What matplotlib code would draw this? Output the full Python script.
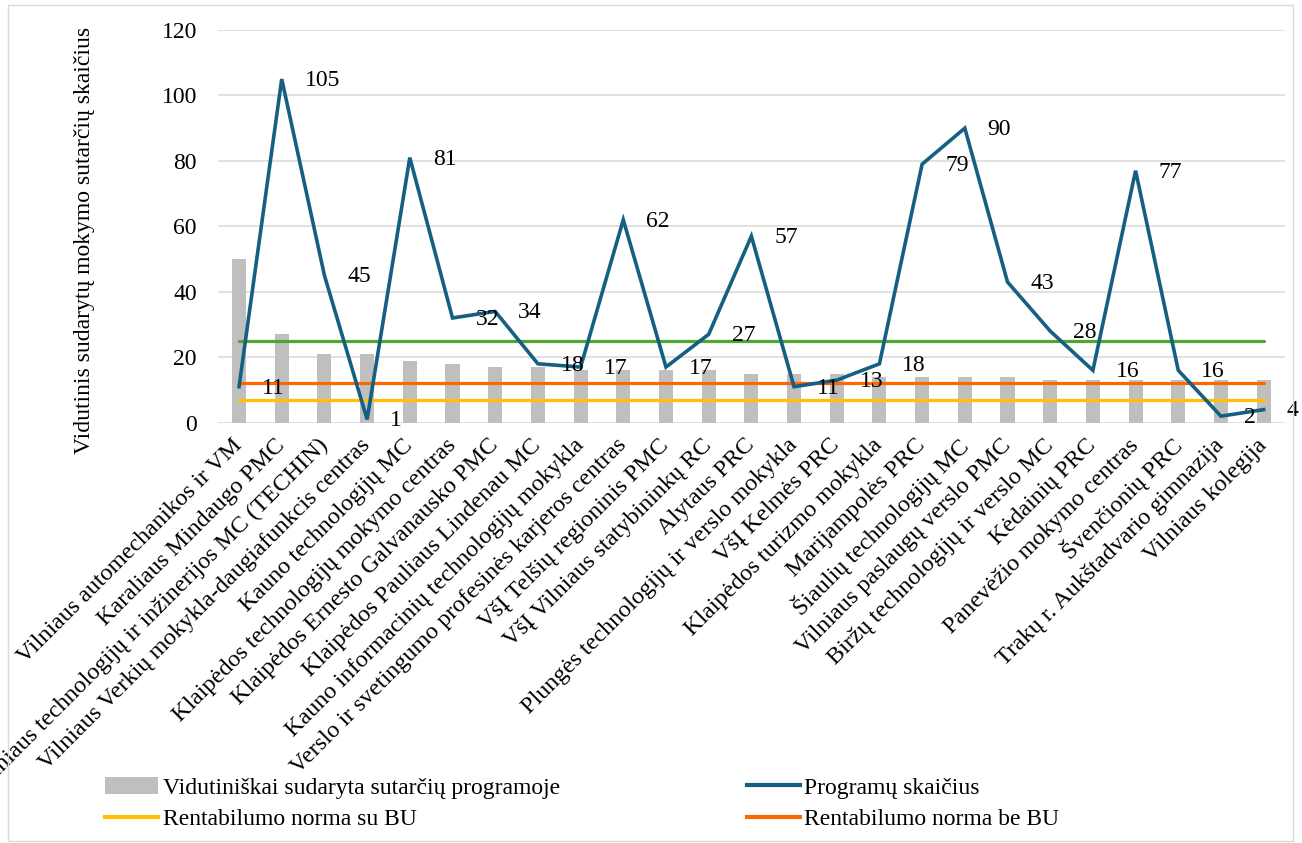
import matplotlib
matplotlib.use("Agg")
import matplotlib.pyplot as plt
from matplotlib.patches import Rectangle, Patch
from matplotlib.lines import Line2D

plt.rcParams['font.family'] = ['Liberation Serif', 'DejaVu Serif']

categories = [
    "Vilniaus automechanikos ir VM",
    "Karaliaus Mindaugo PMC",
    "Vilniaus technologijų ir inžinerijos MC (TECHIN)",
    "Vilniaus Verkių mokykla-daugiafunkcis centras",
    "Kauno technologijų MC",
    "Klaipėdos technologijų mokymo centras",
    "Klaipėdos Ernesto Galvanausko PMC",
    "Klaipėdos Pauliaus Lindenau MC",
    "Kauno informacinių technologijų mokykla",
    "Verslo ir svetingumo profesinės karjeros centras",
    "VšĮ Telšių regioninis PMC",
    "VšĮ Vilniaus statybininkų RC",
    "Alytaus PRC",
    "Plungės technologijų ir verslo mokykla",
    "VšĮ Kelmės PRC",
    "Klaipėdos turizmo mokykla",
    "Marijampolės PRC",
    "Šiaulių technologijų MC",
    "Vilniaus paslaugų verslo PMC",
    "Biržų technologijų ir verslo MC",
    "Kėdainių PRC",
    "Panevėžio mokymo centras",
    "Švenčionių PRC",
    "Trakų r. Aukštadvario gimnazija",
    "Vilniaus kolegija",
]

avg_contracts = [50, 27, 21, 21, 19, 18, 17, 17, 16, 16, 16, 16, 15,
                 15, 15, 14, 14, 14, 14, 13, 13, 13, 13, 13, 13]
programs = [11, 105, 45, 1, 81, 32, 34, 18, 17, 62, 17, 27, 57,
            11, 13, 18, 79, 90, 43, 28, 16, 77, 16, 2, 4]
overall_avg = [25] * len(categories)
norm_with_bu = [7] * len(categories)
norm_without_bu = [12] * len(categories)

W, H = 1302, 843
fig = plt.figure(figsize=(W / 100, H / 100), dpi=100)
ax = fig.add_axes([217.7 / W, 1 - 422.7 / H, (1285 - 217.7) / W, (422.7 - 30) / H])

fs = 17
x = list(range(len(categories)))

ax.set_axisbelow(True)
ax.grid(axis='y', color='#d9d9d9', linewidth=1.1)
ax.bar(x, avg_contracts, width=0.33, color='#bfbfbf', zorder=2)
ax.plot(x, overall_avg, color='#4ea72e', lw=2.3, solid_capstyle='round', zorder=3)
ax.plot(x, norm_without_bu, color='#ff6600', lw=2.3, solid_capstyle='round', zorder=3)
ax.plot(x, norm_with_bu, color='#ffc000', lw=2.3, solid_capstyle='round', zorder=3)
ax.plot(x, programs, color='#156082', lw=2.6, solid_joinstyle='miter', zorder=4)

for xi, v in zip(x, programs):
    ax.annotate(str(v), (xi, v), xytext=(16.5, -1), textcoords='offset points',
                ha='left', va='center', fontsize=fs, zorder=5)

ax.set_xlim(-0.5, len(categories) - 0.5)
ax.set_ylim(0, 120)
ax.set_yticks(range(0, 121, 20))
ax.tick_params(axis='y', length=0, pad=15, labelsize=fs)
ax.tick_params(axis='x', length=0, pad=14)
ax.set_xticks(x)
ax.set_xticklabels(categories, rotation=45, ha='right', va='center',
                   rotation_mode='anchor', fontsize=17.4)
for s in ax.spines.values():
    s.set_visible(False)

fig.text(85 / W, 1 - 240 / H, "Vidutinis sudarytų mokymo sutarčių skaičius",
         rotation=90, ha='center', va='center', fontsize=fs)

handles = [
    Patch(facecolor='#bfbfbf', edgecolor='none'),
    Line2D([], [], color='#ffc000', lw=3),
    Line2D([], [], color='#156082', lw=3),
    Line2D([], [], color='#ff6600', lw=3),
]
labels = ["Vidutiniškai sudaryta sutarčių programoje", "Rentabilumo norma su BU",
          "Programų skaičius", "Rentabilumo norma be BU"]
fig.legend(handles, labels, loc='upper left', bbox_to_anchor=(105 / W, 1 - 777 / H),
           ncol=2, frameon=False, fontsize=fs, borderpad=0, borderaxespad=0,
           handlelength=2.25, handletextpad=0.2, columnspacing=7.9, labelspacing=0.43)

fig.patches.append(Rectangle((8 / W, 2 / H), (1293 - 8) / W, (838 - 2) / H,
                             transform=fig.transFigure, fill=False,
                             edgecolor='#d9d9d9', lw=1))

fig.savefig("out.png", dpi=100)
